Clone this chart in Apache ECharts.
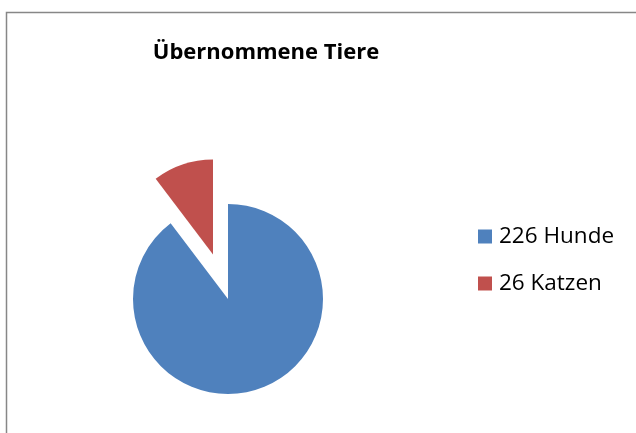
<!DOCTYPE html>
<html><head><meta charset="utf-8">
<script src="https://cdn.jsdelivr.net/npm/echarts@6/dist/echarts.min.js"></script>
<style>html,body{margin:0;padding:0;background:#fff}#c{width:636px;height:433px}</style>
</head><body><div id="c"></div>
<script>
const titleText = "Übernommene Tiere";
const categories = ["226 Hunde", "26 Katzen"];
const values = [226, 26];
const colors = ["#4F81BD", "#C0504D"];

const chart = echarts.init(document.getElementById('c'));
chart.setOption({
  animation: false,
  backgroundColor: '#fff',
  title: {
    text: titleText, left: 266, top: 40, textAlign: 'center', padding: 0,
    textStyle: {fontFamily: 'Open Sans', fontWeight: 'bold', fontSize: 22, lineHeight: 25, color: '#000'}
  },
  legend: {
    orient: 'vertical', left: 478, top: 225, itemWidth: 14, itemHeight: 14, itemGap: 24,
    icon: 'rect', selectedMode: false, padding: 0,
    textStyle: {fontFamily: 'Open Sans', fontSize: 22.5, lineHeight: 22, color: '#000', padding: [0,0,0,2]},
    data: categories
  },
  graphic: [{
    type: 'rect', shape: {x: 6.5, y: 12.5, width: 700, height: 500},
    style: {fill: 'none', stroke: '#878787', lineWidth: 1.5}, silent: true
  }],
  series: [{
    type: 'pie', center: [228, 299], radius: 95, startAngle: 90, clockwise: true,
    selectedMode: 'single', selectedOffset: 47,
    label: {show: false}, labelLine: {show: false},
    emphasis: {disabled: true},
    data: categories.map((c, i) => ({
      name: c, value: values[i], selected: i === 1,
      itemStyle: {color: colors[i]}
    }))
  }]
});
</script></body></html>
